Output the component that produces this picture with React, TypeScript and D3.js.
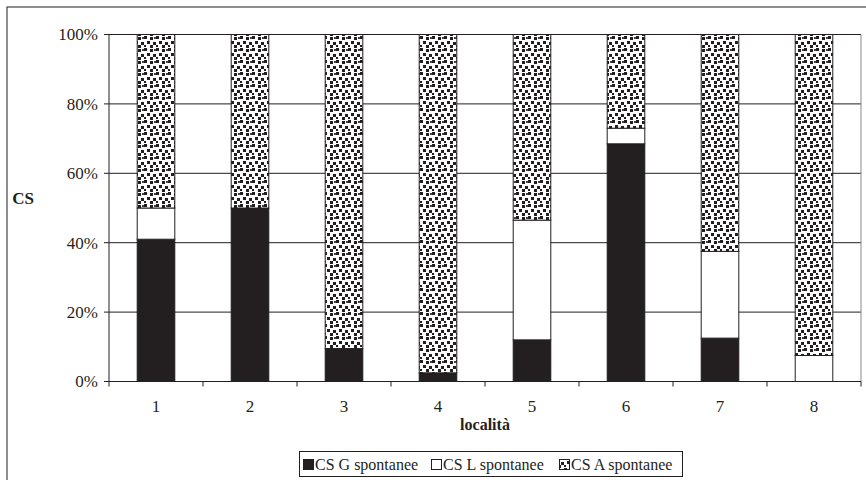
import React from "react";
import * as d3 from "d3";

const categories = ["1", "2", "3", "4", "5", "6", "7", "8"];
const csG = [41, 50, 9.5, 2.5, 12, 68.5, 12.5, 0];
const csL = [9, 0, 0, 0, 34.5, 4.5, 25, 7.5];
const csA = [50, 50, 90.5, 97.5, 53.5, 27, 62.5, 92.5];
const seriesNames = ["CS G spontanee", "CS L spontanee", "CS A spontanee"];
const yTicks = [0, 20, 40, 60, 80, 100];

const W = 866;
const H = 480;
const plot = { left: 109, right: 861, top: 34.5, bottom: 381.5 };
const FONT = "'Liberation Serif', 'Times New Roman', serif";

export default function App() {
  const x = d3
    .scaleBand<string>()
    .domain(categories)
    .range([plot.left, plot.right])
    .paddingInner(0.6)
    .paddingOuter(0.3);
  const xOuter = d3.scaleBand<string>().domain(categories).range([plot.left, plot.right]);
  const y = d3.scaleLinear().domain([0, 100]).range([plot.bottom, plot.top]);

  const rows = categories.map((c, i) => ({ c, G: csG[i], L: csL[i], A: csA[i] }));
  const stack = d3.stack<any>().keys(["G", "L", "A"])(rows);
  const fills = ["#231f20", "#ffffff", "url(#confetti)"];

  const boundaries = categories.map((c) => xOuter(c)!).concat([plot.right]);

  return (
    <svg width={W} height={H} style={{ display: "block", position: "absolute", left: 0, top: 0 }}>
      <defs>
        <pattern id="confetti" width="12" height="12" patternUnits="userSpaceOnUse">
          <rect width="12" height="12" fill="#ffffff" />
          <rect x="0" y="0" width="3" height="3" fill="#231f20" />
          <rect x="6" y="1" width="3" height="3" fill="#231f20" />
          <rect x="3" y="5" width="3" height="3" fill="#231f20" />
          <rect x="9" y="6" width="3" height="3" fill="#231f20" />
          <rect x="0" y="9" width="2" height="2" fill="#231f20" />
          <rect x="6" y="9" width="3" height="3" fill="#231f20" />
          <rect x="10" y="1" width="2" height="2" fill="#444" />
        </pattern>
      </defs>
      <rect x={0} y={0} width={W} height={H} fill="#fff" />
      <rect x={7} y={7} width={W + 10} height={H + 10} fill="none" stroke="#231f20" strokeWidth={1} />

      {/* gridlines */}
      {yTicks.map((t) => (
        <line key={t} x1={plot.left} x2={plot.right} y1={y(t)} y2={y(t)} stroke="#231f20" strokeWidth={1} />
      ))}
      <line x1={plot.right} x2={plot.right} y1={plot.top} y2={plot.bottom} stroke="#888" strokeWidth={1} />

      {/* bars */}
      {stack.map((s, si) =>
        s.map((d, i) => {
          const h = y(d[0]) - y(d[1]);
          if (h <= 0) return null;
          return (
            <rect
              key={si + "-" + i}
              x={x(categories[i])}
              y={y(d[1])}
              width={x.bandwidth()}
              height={h}
              fill={fills[si]}
              stroke="#231f20"
              strokeWidth={1}
            />
          );
        })
      )}

      {/* axes */}
      <line x1={plot.left} x2={plot.left} y1={plot.top} y2={plot.bottom} stroke="#231f20" strokeWidth={1} />
      <line x1={plot.left} x2={plot.right} y1={plot.bottom} y2={plot.bottom} stroke="#231f20" strokeWidth={1} />
      {yTicks.map((t) => (
        <g key={"yt" + t}>
          <line x1={plot.left - 5} x2={plot.left} y1={y(t)} y2={y(t)} stroke="#231f20" />
          <text x={98} y={y(t)} dy="0.35em" textAnchor="end" fontFamily={FONT} fontSize={17} fill="#231f20">
            {t + "%"}
          </text>
        </g>
      ))}
      {boundaries.map((b, i) => (
        <line key={"xt" + i} x1={b} x2={b} y1={plot.bottom} y2={plot.bottom + 5} stroke="#231f20" />
      ))}
      {categories.map((c) => (
        <text
          key={"xl" + c}
          x={xOuter(c)! + xOuter.bandwidth() / 2}
          y={412}
          textAnchor="middle"
          fontFamily={FONT}
          fontSize={17}
          fill="#231f20"
        >
          {c}
        </text>
      ))}
      <text x={485} y={430} textAnchor="middle" fontFamily={FONT} fontSize={16} fontWeight="bold" fill="#231f20">
        località
      </text>
      <text x={23} y={204} textAnchor="middle" fontFamily={FONT} fontSize={17} fontWeight="bold" fill="#231f20">
        CS
      </text>

      {/* legend */}
      <rect x={299.5} y={451.5} width={383} height={25} fill="#fff" stroke="#231f20" strokeWidth={1} />
      {seriesNames.map((n, i) => {
        const lx = [303, 431, 559][i];
        return (
          <g key={n}>
            <rect x={lx + 0.5} y={459.5} width={10} height={10} fill={fills[i]} stroke="#231f20" strokeWidth={1} />
            <text x={lx + 12} y={470} fontFamily={FONT} fontSize={16} fill="#231f20">
              {n}
            </text>
          </g>
        );
      })}
    </svg>
  );
}
